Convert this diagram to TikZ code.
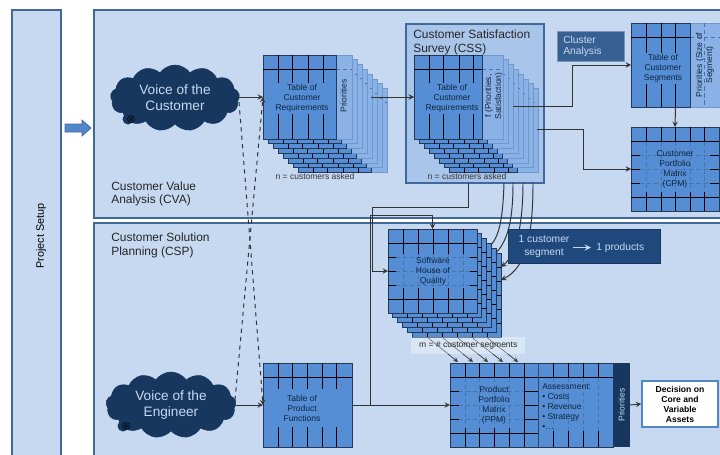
\documentclass[tikz,border=0pt]{standalone}
\usepackage{fontspec}
\setmainfont{Liberation Sans}
\usetikzlibrary{shapes,arrows}
\usetikzlibrary{positioning}
\definecolor{paleblue}{HTML}{C6D9F1}
\definecolor{midblue}{HTML}{A9C5EA}
\definecolor{cellblue}{HTML}{558ED5}
\definecolor{panelblue}{HTML}{8AB2E6}
\definecolor{edgeblue}{HTML}{41689A}
\definecolor{darknavy}{HTML}{17375E}
\definecolor{boxnavy}{HTML}{1F497D}
\definecolor{clusterblue}{HTML}{376092}
\definecolor{inkblue}{HTML}{10253F}
\newlength{\ux}
\setlength{\ux}{0.025cm}
\newcommand{\tablelayer}[6]{
\draw[panel] (#2+#4,#3) rectangle +(#5,84);
\draw[dashline] (#2+#4,#3+14) -- +(#5,0);
\node[tbl,minimum width=#4*\ux,minimum height=84*\ux] (#1) at (#2,#3) {};
\draw[gridline] (#2,#3+14) -- +(#4,0);
\foreach \v in {#6} \draw[gridline] (#2+\v,#3) -- +(0,84);
}
\newcommand{\matrixlayer}[5]{
\node[tbl,minimum width=#4*\ux,minimum height=84*\ux] (#1) at (#2,#3) {};
\foreach \h in {14,28,42,56,70} \draw[gridline] (#2,#3+\h) -- +(#4,0);
\foreach \v in {#5} \draw[gridline] (#2+\v,#3) -- +(0,84);
}
\newcommand{\matrixcentre}[6]{
\fill[cellblue] (#1,#2) rectangle (#3,#4);
\foreach \v in {#5} \draw[dashline] (\v,#2) -- (\v,#4);
\foreach \h in {#6} \draw[dashline] (#1,\h) -- (#3,\h);
}
\begin{document}
\begin{tikzpicture}[x=0.025cm,y=-0.025cm,>=stealth]
\tikzstyle{phase}=[draw=edgeblue,fill=paleblue,line width=0.9pt]
\tikzstyle{tbl}=[rectangle,draw=edgeblue!55!black,fill=cellblue,anchor=north west,inner sep=0pt,outer sep=0pt,line width=0.6pt]
\tikzstyle{panel}=[draw=panelblue!65!edgeblue,fill=panelblue,line width=0.5pt]
\tikzstyle{gridline}=[draw=black,line width=0.7pt]
\tikzstyle{dashline}=[draw=edgeblue!65!cellblue,line width=0.35pt,densely dashed]
\tikzstyle{conn}=[draw=black!80,line width=0.7pt]
\tikzstyle{dashconn}=[conn,dashed]
\tikzstyle{voice}=[cloud,cloud puffs=13,cloud puff arc=110,aspect=2,draw=darknavy,fill=darknavy,text=paleblue,align=center,inner sep=0pt,font=\fontsize{9.7}{11.4}\selectfont]
\tikzstyle{small}=[text=inkblue,align=center,inner sep=1pt,font=\fontsize{6.05}{7.1}\selectfont]
\tikzstyle{cellnote}=[small,fill=cellblue]
\tikzstyle{heading}=[align=left,inner sep=0pt,text=black!85,font=\fontsize{8.5}{9.4}\selectfont]
\useasboundingbox (0,0) rectangle (720,454);
\draw[phase] (12,10) rectangle (61,460);
\draw[phase] (94,10) rectangle (726,218);
\draw[phase] (94,223) rectangle (726,460);
\node[rotate=90,inner sep=0pt,font=\fontsize{7.7}{9}\selectfont] (setup) at (41,236) {Project Setup};
\draw[draw=edgeblue,fill=cellblue!80!edgeblue,line width=0.5pt] (65,124) -- (82,124) -- (82,120) -- (91,128) -- (82,136) -- (82,132) -- (65,132) -- cycle;
\node[heading,anchor=west] (cva) at (111,194) {Customer Value\\Analysis (CVA)};
\node[heading,anchor=west] (csp) at (111,245.5) {Customer Solution\\Planning (CSP)};

\node[voice,minimum width=129*\ux,minimum height=66*\ux] (custcloud) at (175,98) {Voice of the\\Customer};
\node[voice,minimum width=130*\ux,minimum height=66*\ux] (engcloud) at (171,405) {Voice of the\\Engineer};
\foreach \cx/\cy in {128/119,123/426} {
\fill[darknavy] (\cx,\cy) circle (5.5);
\draw[black,line width=0.4pt] (\cx+3,\cy) circle (3.5);
\draw[black,line width=0.4pt] (\cx+3,\cy) circle (1.5);
}

\foreach \k in {7,...,1} {\tablelayer{reqback\k}{263+5*\k}{55+4.8*\k}{73}{16}{15,29,45,60}}
\tablelayer{reqtable}{263}{55}{73}{16}{15,29,45,60}
\node[cellnote] (reqtext) at (302,98.5) {Table of\\Customer\\Requirements};
\node[small,rotate=90] (reqprio) at (343.5,96) {Priorities};
\node[small,text=black!80] (reqn) at (315,176) {n = customers asked};

\draw[draw=edgeblue,fill=midblue,line width=1pt] (406,24) rectangle (544,183);
\node[heading,anchor=north west,font=\fontsize{8.5}{10}\selectfont] (csstitle) at (413,29.5) {Customer Satisfaction\\Survey (CSS)};
\foreach \k in {7,...,1} {\tablelayer{cssback\k}{414+5*\k}{55+4.8*\k}{68}{21}{15,29,45,59}}
\tablelayer{csstable}{414}{55}{68}{21}{15,29,45,59}
\node[cellnote] (csstext) at (452,98.5) {Table of\\Customer\\Requirements};
\node[small,rotate=90] (cssprio) at (494,96) {f (Priorities,\\Satisfaction)};
\node[small,text=black!80] (cssn) at (467,176) {n = customers asked};

\node[rectangle,draw=edgeblue!70,fill=clusterblue,anchor=north west,minimum width=67*\ux,minimum height=30*\ux,inner sep=0pt,outer sep=0pt] (cluster) at (557,31) {};
\node[anchor=west,align=left,text=paleblue,inner sep=0pt,font=\fontsize{7.3}{7.9}\selectfont] (clustertext) at (563,46.5) {Cluster\\Analysis};

\node[tbl,draw=none,fill=none,minimum width=89*\ux,minimum height=84*\ux] (segtable) at (631,23) {};
\tablelayer{segfront}{631}{23}{59}{40}{15,30,44}
\draw[dashline] (704,23) -- (704,107);
\node[cellnote] (segtext) at (663,68.5) {Table of\\Customer\\Segments};
\node[small,rotate=90] (segprio) at (705,65) {Priorities (Size of\\Segment)};

\matrixlayer{cpmtable}{631}{127}{88}{15,30,44,59,73}
\matrixcentre{640}{142}{710}{192}{646,661,675,690,704}{155,169,183}
\node[small] (cpmtext) at (675,169) {Customer\\Portfolio\\Matrix\\(CPM)};

\foreach \k in {5,...,1} {\matrixlayer{hoqback\k}{388+4.8*\k}{229+4.8*\k}{89}{15,30,45,60,75}}
\matrixlayer{hoqtable}{388}{229}{89}{15,30,45,60,75}
\matrixcentre{396}{254}{470}{288}{403,418,433,448,463}{257,271,285}
\node[small] (hoqtext) at (433,271) {Software\\House of\\Quality};

\node[tbl,minimum width=89*\ux,minimum height=84*\ux] (prodtable) at (263,363) {};
\draw[gridline] (263,377) -- (352,377);
\foreach \v in {278,292,307,322,336} \draw[gridline] (\v,363) -- (\v,447);
\node[cellnote,minimum width=70*\ux,minimum height=38*\ux] (prodtext) at (302,408) {Table of\\Product\\Functions};

\node[tbl,minimum width=163*\ux,minimum height=84*\ux] (ppmtable) at (450,363) {};
\foreach \h in {377,391,405,419,433} \draw[gridline] (450,\h) -- (538,\h);
\draw[gridline] (538,377) -- (613,377);
\foreach \v in {465,479,494,509,524,538,553,568,583,598} \draw[gridline] (\v,363) -- (\v,447);
\matrixcentre{459}{378}{524}{428}{465,479,494,509}{391,405,419}
\matrixcentre{539}{378}{612}{431}{553,568,583,598}{}
\draw[edgeblue!70!black,line width=0.7pt] (538,363) -- (538,447);
\node[small] (ppmtext) at (494,405) {Product\\Portfolio\\Matrix\\(PPM)};
\node[small,align=left,anchor=north west,inner sep=0pt] (assess) at (542,383) {Assessment:\\\textbullet{} Costs\\\textbullet{} Revenue\\\textbullet{} Strategy\\\textbullet{}\dots};
\node[rectangle,rotate=90,fill=darknavy,text=paleblue,inner sep=0pt,outer sep=0pt,minimum width=84*\ux,minimum height=17*\ux,font=\fontsize{6.05}{7.1}\selectfont] (ppmprio) at (621.5,405) {Priorities};
\node[rectangle,draw=cellblue!80!edgeblue,fill=white,line width=1.1pt,minimum width=76*\ux,minimum height=46*\ux,inner sep=0pt,align=center,font=\fontsize{6.1}{7.1}\selectfont\bfseries] (decision) at (680,404) {Decision on\\Core and\\Variable\\Assets};

\draw[conn,->] (custcloud.east |- reqtable.west) -- (reqtable.west);
\draw[conn,->] (engcloud.east |- prodtable.west) -- (prodtable.west);
\coordinate (custdash) at (239,102);
\coordinate (engdash) at (235,400);
\draw[dashconn,->] (custdash) -- (prodtable.west);
\draw[dashconn,->] (engdash) -- (reqtable.west);
\draw[conn,->] (reqback7.east |- csstable.west) -- (csstable.west);
\coordinate (cssseg) at (513,106);
\coordinate (csscpm) at (537,129);
\draw[conn,->] (cssseg) -- (572,106) |- (segtable.west);
\draw[conn,->] (csscpm) -- (583,129) |- (cpmtable.west);
\draw[conn,->] (segtable.south) -- (cpmtable.north);
\coordinate (cssdown) at (468,183);
\coordinate (produp) at (370,405);
\draw[conn,->] (cssdown) -- (468,207) -- (372,207) |- (hoqtable.west);
\draw[conn,->] (produp) -- (370,215) -| (hoqtable.north);
\draw[conn,->] (prodtable.east) -- (ppmtable.west);
\draw[conn,->] (ppmprio.south) -- (decision.west);

\coordinate (cssa) at (504,183);
\coordinate (cssb) at (513,183);
\coordinate (cssc) at (523,183);
\coordinate (cssd) at (533,183);
\coordinate (hoqa) at (491,245);
\coordinate (hoqb) at (496,253);
\coordinate (hoqc) at (501,267);
\coordinate (hoqd) at (501,280);
\draw[conn] (cssa) .. controls (503,215) and (500,235) .. (hoqa);
\draw[conn] (cssb) .. controls (513,220) and (508,240) .. (hoqb);
\draw[conn,->] (cssc) .. controls (523,225) and (516,255) .. (hoqc);
\draw[conn,->] (cssd) .. controls (533,235) and (526,268) .. (hoqd);

\node[rectangle,draw=darknavy,fill=boxnavy,anchor=north west,minimum width=152*\ux,minimum height=34*\ux,inner sep=0pt,outer sep=0pt] (segnote) at (508,229) {};
\node[align=center,text=paleblue,inner sep=0pt,font=\fontsize{7.3}{8.6}\selectfont] (onesegment) at (544,246.5) {1 customer\\segment};
\node[anchor=west,text=paleblue,inner sep=0pt,font=\fontsize{7.3}{8.6}\selectfont] (oneproduct) at (596,247.5) {1 products};
\draw[paleblue,line width=1pt,->] (onesegment.east |- oneproduct.west) ++(3,0) -- ([xshift=-5*\ux]oneproduct.west);

\foreach \i in {0,...,4} {
\coordinate (mfrom\i) at (427+14.8*\i,337);
\coordinate (mto\i) at (458+15*\i,362);
\draw[draw=black!80,line width=0.5pt,->] (mfrom\i) -- (mto\i);
}
\node[rectangle,fill=white,fill opacity=0.35,text opacity=1,anchor=north west,minimum width=114*\ux,minimum height=17*\ux,inner sep=0pt,text=black!85,font=\fontsize{6.05}{7.1}\selectfont] (mnote) at (411,337) {m = \# customer segments};
\end{tikzpicture}
\end{document}
